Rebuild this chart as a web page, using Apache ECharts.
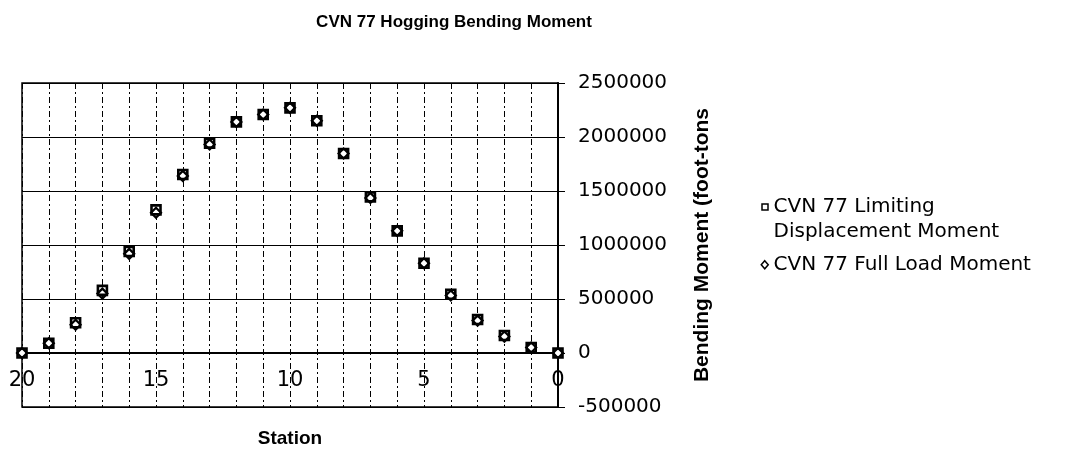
<!DOCTYPE html>
<html>
<head>
<meta charset="utf-8">
<title>CVN 77 Hogging Bending Moment</title>
<script src="https://cdn.jsdelivr.net/npm/echarts@6/dist/echarts.min.js"></script>
<style>
html, body { margin: 0; padding: 0; background: #fff; }
#chart { width: 1065px; height: 450px; }
</style>
</head>
<body>
<div id="chart"></div>
<script>
// station numbers, read from left (20) to right (0)
var stations = [20, 19, 18, 17, 16, 15, 14, 13, 12, 11, 10, 9, 8, 7, 6, 5, 4, 3, 2, 1, 0];
// bending moment (foot-tons)
var limitingMoment = [0, 90000, 280000, 580000, 940000, 1325000, 1653000, 1943000, 2140000, 2208000, 2270000,
	2150000, 1847000, 1446000, 1131000, 831000, 544000, 310000, 162000, 51000, 0];
var fullLoadMoment = [0, 90000, 262000, 550000, 918000, 1298000, 1640000, 1930000, 2140000, 2208000, 2270000,
	2150000, 1847000, 1436000, 1131000, 831000, 532000, 300000, 152000, 51000, 0];
// labelled stations on the x axis
var stationLabels = [20, 15, 10, 5, 0];
// y axis range
var yMin = -500000, yMax = 2500000, yStep = 500000;

var seriesNames = ['CVN 77 Limiting\nDisplacement Moment', 'CVN 77 Full Load Moment'];

var gridTop = 83, gridBottom = 43, gridHeight = 450 - gridTop - gridBottom;
// the x axis sits on the zero line, move it up from the bottom of the grid
var zeroOffset = -gridHeight * (0 - yMin) / (yMax - yMin);

function toPoints(values) {
	var pts = [];
	for (var i = 0; i < stations.length; i++) {
		pts.push([stations[i], values[i]]);
	}
	return pts;
}

var option = {
	backgroundColor: '#fff',
	animation: false,
	title: {
		text: 'CVN 77 Hogging Bending Moment',
		left: 449,
		top: 9,
		textAlign: 'center',
		textStyle: {
			fontFamily: 'Liberation Sans',
			fontWeight: 'bold',
			fontSize: 17,
			color: '#000'
		}
	},
	legend: {
		orient: 'vertical',
		left: 755,
		top: 189,
		itemWidth: 8,
		itemHeight: 32,
		itemGap: 4,
		selectedMode: false,
		itemStyle: {
			borderWidth: 1.5
		},
		textStyle: {
			fontFamily: 'DejaVu Sans',
			fontSize: 20,
			lineHeight: 25,
			color: '#000'
		},
		data: [
			{
				name: seriesNames[0],
				// small square at the top of a tall box, next to the first text line
				icon: 'path://M0,0L0,0M1,1L7,1L7,7L1,7ZM0,32L0,32'
			},
			{
				name: seriesNames[1],
				icon: 'path://M0,0L0,0M4,12L7.5,16L4,20L0.5,16ZM0,32L0,32'
			}
		]
	},
	grid: {
		left: 22,
		right: 507,
		top: gridTop,
		bottom: gridBottom,
		outerBoundsMode: 'none',
		containLabel: false,
		show: true,
		borderColor: '#000',
		borderWidth: 1.5
	},
	xAxis: {
		type: 'value',
		min: 0,
		max: 20,
		interval: 1,
		inverse: true,
		offset: zeroOffset,
		name: 'Station',
		nameLocation: 'middle',
		nameGap: 76,
		nameTextStyle: {
			fontFamily: 'Liberation Sans',
			fontWeight: 'bold',
			fontSize: 19,
			color: '#000'
		},
		axisLine: {
			onZero: false,
			lineStyle: { color: '#000', width: 2 }
		},
		axisTick: { show: false },
		axisLabel: {
			color: '#000',
			fontFamily: 'DejaVu Sans',
			fontSize: 21,
			margin: 17,
			showMinLabel: true,
			showMaxLabel: true,
			formatter: function (v) {
				return stationLabels.indexOf(v) >= 0 ? String(v) : '';
			}
		},
		splitLine: {
			show: true,
			lineStyle: { color: '#000', width: 1, type: [6, 3, 2, 3] }
		}
	},
	yAxis: {
		type: 'value',
		position: 'right',
		min: yMin,
		max: yMax,
		interval: yStep,
		name: 'Bending Moment (foot-tons',
		nameLocation: 'middle',
		nameRotate: 90,
		nameGap: 134,
		nameTextStyle: {
			fontFamily: 'Liberation Sans',
			fontWeight: 'bold',
			fontSize: 21,
			color: '#000'
		},
		axisLine: {
			show: true,
			onZero: false,
			lineStyle: { color: '#000', width: 2 }
		},
		axisTick: {
			show: true,
			length: 7,
			lineStyle: { color: '#000' }
		},
		axisLabel: {
			color: '#000',
			fontFamily: 'DejaVu Sans',
			fontSize: 20,
			margin: 20,
			formatter: function (v) {
				return String(v);
			}
		},
		splitLine: {
			lineStyle: { color: '#000', width: 1 }
		}
	},
	series: [
		{
			name: seriesNames[0],
			type: 'scatter',
			symbol: 'rect',
			symbolSize: 9,
			clip: false,
			itemStyle: {
				color: '#fff',
				borderColor: '#000',
				borderWidth: 2.6,
				opacity: 1
			},
			data: toPoints(limitingMoment)
		},
		{
			name: seriesNames[1],
			type: 'scatter',
			symbol: 'diamond',
			symbolSize: 10,
			clip: false,
			itemStyle: {
				color: 'rgba(255,255,255,0)',
				borderColor: '#000',
				borderWidth: 2.2,
				opacity: 1
			},
			data: toPoints(fullLoadMoment)
		}
	]
};

var chart = echarts.init(document.getElementById('chart'));
chart.setOption(option);
</script>
</body>
</html>
